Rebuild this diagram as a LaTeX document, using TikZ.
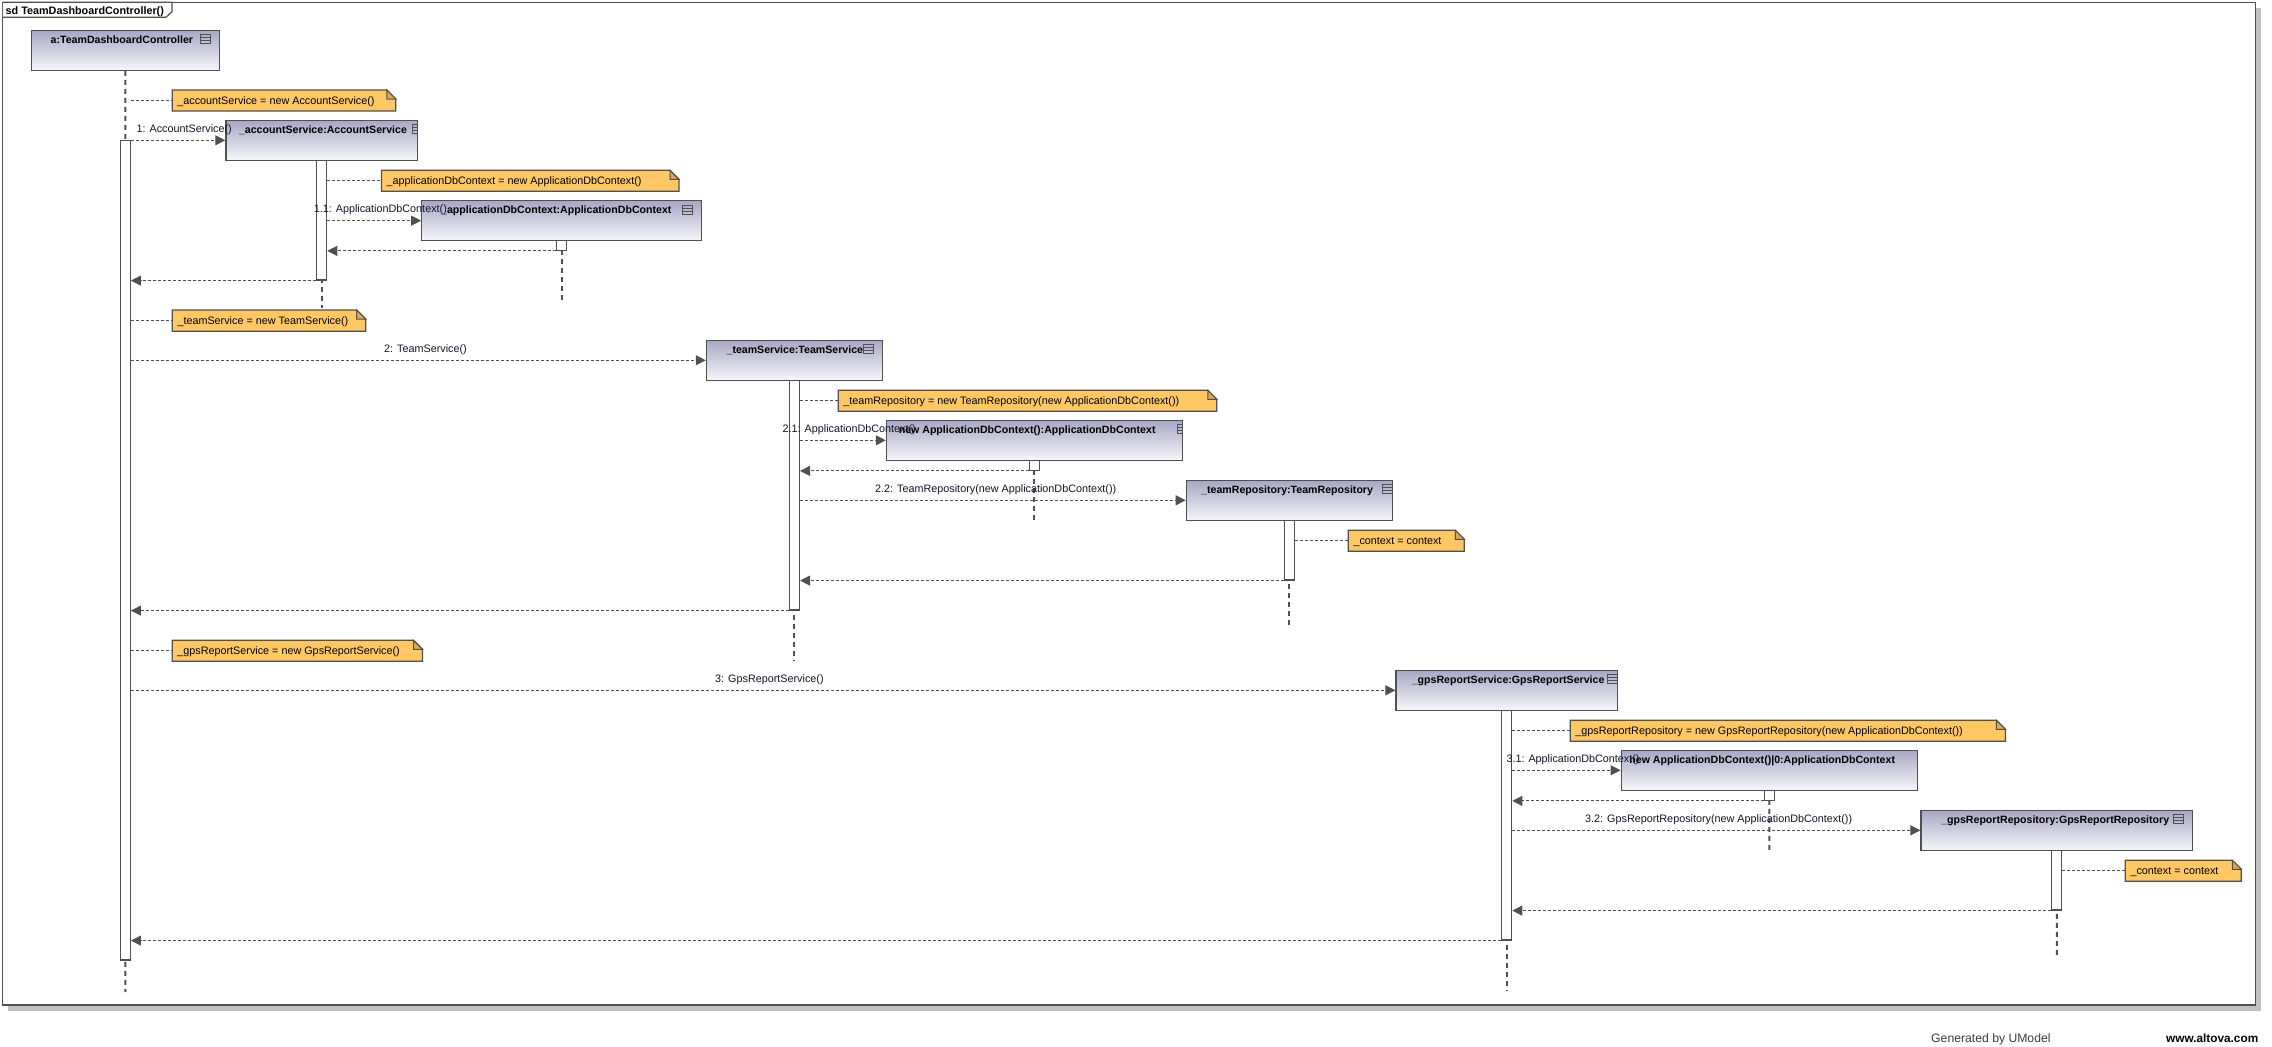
\documentclass[tikz,border=0pt]{standalone}
\usepackage{fontspec}
\setmainfont{Liberation Sans}
\usetikzlibrary{arrows.meta}

\definecolor{edge}{RGB}{80,80,80}
\definecolor{notefill}{RGB}{255,200,100}
\definecolor{notefold}{RGB}{222,168,82}
\definecolor{headtop}{RGB}{168,168,198}
\definecolor{headbot}{RGB}{246,246,251}
\definecolor{shadowgray}{RGB}{192,192,192}
\definecolor{labelink}{RGB}{20,20,40}
\definecolor{footgray}{RGB}{60,60,60}

\tikzset{
  diagframe/.style={draw=edge, line width=1.3bp, fill=white},
  headbox/.style={draw=edge, line width=1.2bp, top color=headtop, bottom color=headbot, inner sep=0, rectangle},
  headtext/.style={font=\fontsize{10.6bp}{12bp}\selectfont\bfseries, inner sep=0, anchor=base west, text=black},
  lbl/.style={font=\fontsize{10.8bp}{12bp}\selectfont, inner sep=0, anchor=base west, text=labelink},
  actbarst/.style={draw=edge, fill=white, line width=1.2bp, inner sep=0, minimum width=10bp, rectangle},
  lifeline/.style={draw=edge, line width=2bp, dash pattern=on 5bp off 4bp},
  msg/.style={draw=edge, line width=1bp, dash pattern=on 3bp off 2bp, -{Triangle[length=10bp,width=10bp,fill=edge]}},
  anchorline/.style={draw=edge, line width=1bp, dash pattern=on 3bp off 2bp},
  noteframe/.style={draw=edge, line width=1.2bp, fill=notefill},
  notefoldst/.style={draw=edge, line width=1bp, fill=notefold},
  iconst/.style={draw=edge, line width=0.9bp},
}

% lifeline head: name, x1, y1, x2, y2, text x, text
\newcommand\lifehead[7]{%
  \node[headbox, minimum width={((#4)-(#2))*1bp}, minimum height={((#5)-(#3))*1bp}]
    (#1) at ({((#2)+(#4))/2},{((#3)+(#5))/2}) {};
  \node[headtext] (#1-t) at (#6,{(#3)+13}) {#7};
}
% small menu icon in a lifeline head: x, top y
\newcommand\menuicon[2]{%
  \draw[iconst] (#1,{(#2)+4.6}) rectangle ({(#1)+10},{(#2)+13.3});
  \draw[iconst] (#1,{(#2)+7.5}) -- ({(#1)+10},{(#2)+7.5});
  \draw[iconst] (#1,{(#2)+10.4}) -- ({(#1)+10},{(#2)+10.4});
}
% activation bar: name, x, y1, y2
\newcommand\actbar[4]{%
  \node[actbarst, minimum height={((#4)-(#3))*1bp}] (#1) at (#2,{((#3)+(#4))/2}) {};
}
% note: name, x1, y1, x2, y2, text
\newcommand\seqnote[6]{%
  \path[noteframe] (#2,#3) -- ({(#4)-9},#3) -- (#4,{(#3)+9}) -- (#4,#5) -- (#2,#5) -- cycle;
  \path[notefoldst] ({(#4)-9},#3) -- ({(#4)-9},{(#3)+9}) -- (#4,{(#3)+9}) -- cycle;
  \node[inner sep=0, minimum width={((#4)-(#2))*1bp}, minimum height={((#5)-(#3))*1bp}]
    (#1) at ({((#2)+(#4))/2},{((#3)+(#5))/2}) {};
  \node[lbl, text=black] (#1-t) at ({(#2)+5},{((#3)+(#5))/2+3.8}) {#6};
}

\begin{document}
\begin{tikzpicture}[x=1bp, y=-1bp]
  % canvas
  \fill[white] (0,0) rectangle (2272,1046);
  \useasboundingbox (0,0) rectangle (2272,1046);

  % diagram frame with its shadow
  \fill[shadowgray] (8,8) rectangle (2260.7,1010.7);
  \path[diagframe] (2.8,2.3) rectangle (2255.7,1005);
  \draw[edge, line width=1.2bp, fill=white] (2.8,2.3) -- (172,2.3) -- (172,11.7) -- (166,17.3) -- (2.8,17.3);
  \node[font=\fontsize{10.8bp}{12bp}\selectfont\bfseries, inner sep=0, anchor=base west] (title) at (5.5,14) {sd TeamDashboardController()};

  % lifeline ends
  \coordinate (A-end) at (125.35,992);
  \coordinate (AS-end) at (321.65,308);
  \coordinate (ADC-end) at (561.7,300);
  \coordinate (TS-end) at (794.45,661);
  \coordinate (NADC-end) at (1034.45,520.7);
  \coordinate (TR-end) at (1289.3,628.3);
  \coordinate (GS-end) at (1506.7,991);
  \coordinate (NZ-end) at (1769.35,851);
  \coordinate (GR-end) at (2056.85,958.3);

  % lifeline heads
  \lifehead{A}{31.2}{30.3}{219.5}{70.3}{50.5}{a:TeamDashboardController}
  \menuicon{200.6}{30.3}
  \lifehead{AS}{225.9}{120.3}{417.4}{160.3}{238.8}{\_accountService:AccountService}
  \begin{scope}
    \clip (225.9,120.3) rectangle (417.4,160.3);
    \menuicon{412.3}{120.3}
  \end{scope}
  \lifehead{ADC}{421.7}{200.7}{701.7}{240.7}{441}{\_applicationDbContext:ApplicationDbContext}
  \menuicon{682.7}{200.7}
  \lifehead{TS}{706.4}{340.3}{882.5}{380.3}{726.4}{\_teamService:TeamService}
  \menuicon{863}{340.3}
  \lifehead{NADC}{886.4}{420.3}{1182.5}{460.3}{898.6}{new ApplicationDbContext():ApplicationDbContext}
  \begin{scope}
    \clip (886.4,420.3) rectangle (1182.5,460.3);
    \menuicon{1177.5}{420.3}
  \end{scope}
  \lifehead{TR}{1186.3}{480.3}{1392.3}{520.3}{1201}{\_teamRepository:TeamRepository}
  \menuicon{1382.3}{480.3}
  \lifehead{GS}{1396}{670.3}{1617.4}{710.3}{1411.6}{\_gpsReportService:GpsReportService}
  \menuicon{1607.4}{670.3}
  \lifehead{NZ}{1621.2}{750.3}{1917.5}{790.3}{1629.2}{new ApplicationDbContext()|0:ApplicationDbContext}
  \lifehead{GR}{1921}{810.3}{2192.7}{850.3}{1941}{\_gpsReportRepository:GpsReportRepository}
  \menuicon{2173.3}{810.3}

  % dashed lifelines
  \foreach \n in {A,AS,ADC,TS,NADC,TR,GS,NZ,GR}
    \draw[lifeline] (\n.south) -- (\n-end);

  % activation bars
  \actbar{bA}{125.35}{140.3}{960}
  \actbar{bAS}{321.65}{160.3}{280}
  \actbar{bADC}{561.7}{240.7}{250.3}
  \actbar{bTS}{794.45}{380.3}{610}
  \actbar{bNADC}{1034.45}{460.3}{470.3}
  \actbar{bTR}{1289.3}{520.3}{580}
  \actbar{bGS}{1506.7}{710.3}{940}
  \actbar{bNZ}{1769.35}{790.3}{800.3}
  \actbar{bGR}{2056.85}{850.3}{910}

  % notes
  \seqnote{N1}{172.2}{90}{395.8}{111}{\_accountService = new AccountService()}
  \seqnote{N2}{381.5}{170.3}{679}{191.3}{\_applicationDbContext = new ApplicationDbContext()}
  \seqnote{N3}{172.3}{310}{365.7}{331.3}{\_teamService = new TeamService()}
  \seqnote{N4}{838.2}{390.3}{1216.8}{411.3}{\_teamRepository = new TeamRepository(new ApplicationDbContext())}
  \seqnote{N5}{1348.3}{530.3}{1464.3}{551.3}{\_context = context}
  \seqnote{N6}{172.2}{640.3}{422.5}{661.3}{\_gpsReportService = new GpsReportService()}
  \seqnote{N7}{1570.2}{720.3}{2005.4}{741.3}{\_gpsReportRepository = new GpsReportRepository(new ApplicationDbContext())}
  \seqnote{N8}{2125.3}{860.3}{2241.3}{881.3}{\_context = context}

  % note anchors
  \draw[anchorline] (bA.east |- N1.west) -- (N1.west);
  \draw[anchorline] (bAS.east |- N2.west) -- (N2.west);
  \draw[anchorline] (bA.east |- N3.west) -- (N3.west);
  \draw[anchorline] (bTS.east |- N4.west) -- (N4.west);
  \draw[anchorline] (bTR.east |- N5.west) -- (N5.west);
  \draw[anchorline] (bA.east |- N6.west) -- (N6.west);
  \draw[anchorline] (bGS.east |- N7.west) -- (N7.west);
  \draw[anchorline] (bGR.east |- N8.west) -- (N8.west);

  % calls
  \draw[msg] (bA.east |- AS.west) -- (AS.west);
  \draw[msg] (bAS.east |- ADC.west) -- (ADC.west);
  \draw[msg] (bA.east |- TS.west) -- (TS.west);
  \draw[msg] (bTS.east |- NADC.west) -- (NADC.west);
  \draw[msg] (bTS.east |- TR.west) -- (TR.west);
  \draw[msg] (bA.east |- GS.west) -- (GS.west);
  \draw[msg] (bGS.east |- NZ.west) -- (NZ.west);
  \draw[msg] (bGS.east |- GR.west) -- (GR.west);

  % returns
  \draw[msg] (bADC.south west) -- (bAS.east |- bADC.south);
  \draw[msg] (bAS.south west) -- (bA.east |- bAS.south);
  \draw[msg] (bNADC.south west) -- (bTS.east |- bNADC.south);
  \draw[msg] (bTR.south west) -- (bTS.east |- bTR.south);
  \draw[msg] (bTS.south west) -- (bA.east |- bTS.south);
  \draw[msg] (bNZ.south west) -- (bGS.east |- bNZ.south);
  \draw[msg] (bGR.south west) -- (bGS.east |- bGR.south);
  \draw[msg] (bGS.south west) -- (bA.east |- bGS.south);

  % message labels
  \node[lbl] (l1) at (136.4,132) {1: AccountService()};
  \node[lbl] (l11) at (313.6,212.7) {1.1: ApplicationDbContext()};
  \node[lbl] (l2) at (384,352.3) {2: TeamService()};
  \node[lbl] (l21) at (782.5,432.3) {2.1: ApplicationDbContext()};
  \node[lbl] (l22) at (875,492.3) {2.2: TeamRepository(new ApplicationDbContext())};
  \node[lbl] (l3) at (715,682.3) {3: GpsReportService()};
  \node[lbl] (l31) at (1506.3,762.7) {3.1: ApplicationDbContext()};
  \node[lbl] (l32) at (1585,822.3) {3.2: GpsReportRepository(new ApplicationDbContext())};

  % footer
  \node[font=\fontsize{12.2bp}{14bp}\selectfont, text=footgray, inner sep=0, anchor=base west] (gen) at (1931,1042.5) {Generated by UModel};
  \node[font=\fontsize{11.8bp}{14bp}\selectfont\bfseries, text=black, inner sep=0, anchor=base west] (site) at (2166,1042.5) {www.altova.com};
\end{tikzpicture}
\end{document}
